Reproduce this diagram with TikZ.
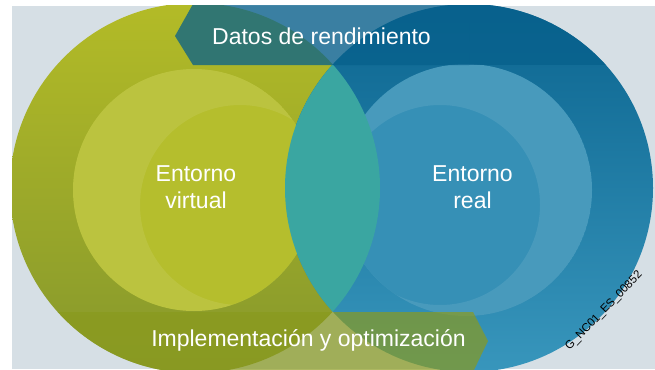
\documentclass[tikz,border=0pt]{standalone}
\usepackage{fontspec}
\setmainfont{Liberation Sans}
\definecolor{bgc}{HTML}{D6DFE5}
\definecolor{gTop}{HTML}{B3BB27}
\definecolor{gMid}{HTML}{ADB728}
\definecolor{gBot}{HTML}{86982C}
\definecolor{gIn}{HTML}{B5BE2D}
\definecolor{bTop}{HTML}{0B6590}
\definecolor{bMid}{HTML}{1E7DA8}
\definecolor{bBot}{HTML}{3896BC}
\definecolor{bIn}{HTML}{3690B6}
\definecolor{lensc}{HTML}{3AA6A1}
\definecolor{topband}{HTML}{07608C}
\definecolor{botband}{HTML}{8A9A1E}
\begin{document}
\begin{tikzpicture}[x=1pt,y=-1pt,
  lbl/.style={text=white,font=\fontsize{23}{27}\selectfont,align=center,inner sep=0pt},
  tband/.style={fill=topband,fill opacity=0.75},
  bband/.style={fill=botband,fill opacity=0.7},
  swirl/.style={fill=white,fill opacity=0.09,even odd rule}]
\useasboundingbox (0,0) rectangle (655,369);
\fill[white] (0,0) rectangle (655,369);
\fill[bgc] (12,6) rectangle (655,369);
\begin{scope}
  \clip (12,6) rectangle (655,369);
  % outer discs
  \shade[top color=gTop, middle color=gMid, bottom color=gBot] (195,188) circle (185);
  \shade[top color=bTop, middle color=bMid, bottom color=bBot] (469,188) circle (184);
  % inner discs with a light crescent
  \fill[gIn] (194,190) circle (121);
  \begin{scope}
    \clip (194,190) circle (121);
    \fill[swirl] (194,190) circle (121) (240,205) circle (100);
  \end{scope}
  \fill[bIn] (466,190) circle (126);
  \begin{scope}
    \clip (466,190) circle (126);
    \fill[swirl] (466,190) circle (126) (440,205) circle (100);
  \end{scope}
  % lens
  \begin{scope}
    \clip (195,188) circle (185);
    \fill[lensc] (469,188) circle (184);
  \end{scope}
  % top band
  \fill[tband] (175,36) -- (193,4) -- (469,4) -- (469,65) -- (193,65) -- cycle;
  \begin{scope}
    \clip (469,188) circle (184);
    \fill[tband] (469,4) rectangle (660,65);
  \end{scope}
  % bottom band
  \fill[bband] (195,312) -- (473,312) -- (488,341) -- (473,372) -- (195,372) -- cycle;
  \begin{scope}
    \clip (195,188) circle (185);
    \fill[bband] (0,312) rectangle (195,372);
  \end{scope}
\end{scope}
\node[lbl] (datos) at (321.5,36) {Datos de rendimiento};
\node[lbl] (virtual) at (196,187) {Entorno\\virtual};
\node[lbl] (real) at (472.5,187) {Entorno\\real};
\node[lbl] (impl) at (308.5,340) {Implementación y optimización};
\node[rotate=46,font=\fontsize{11.5}{14}\selectfont,inner sep=0pt] (code) at (604,311) {G\_NC01\_ES\_00852};
\end{tikzpicture}
\end{document}
